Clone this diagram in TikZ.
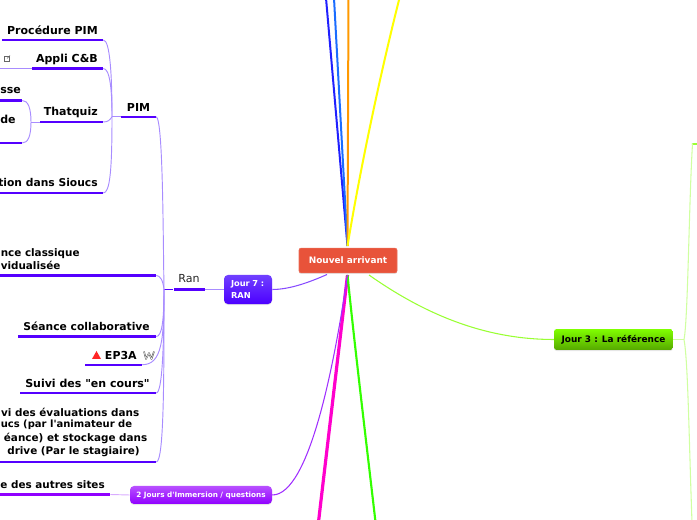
\documentclass[tikz,border=0pt]{standalone}
\usepackage{fontspec}
\setmainfont{DejaVu Sans}[Ligatures=TeXOff]
\usetikzlibrary{shadows}
\definecolor{rootred}{HTML}{E8533A}
\definecolor{ranviolet}{HTML}{5500FF}
\definecolor{rantop}{HTML}{7040FF}
\definecolor{ranbot}{HTML}{4C00FF}
\definecolor{twigviolet}{HTML}{A88CFF}
\definecolor{immpurple}{HTML}{A030FF}
\definecolor{immtop}{HTML}{B850FF}
\definecolor{immbot}{HTML}{9000FF}
\definecolor{limeline}{HTML}{99FF33}
\definecolor{limetwig}{HTML}{CFFFA0}
\definecolor{limetop}{HTML}{80FF00}
\definecolor{limebot}{HTML}{56A800}
\definecolor{branchpink}{HTML}{FF00CC}
\definecolor{branchgreen}{HTML}{33FF00}
\definecolor{branchblue}{HTML}{2020FF}
\definecolor{branchsky}{HTML}{1A6CFF}
\definecolor{branchorange}{HTML}{FF9900}
\definecolor{branchyellow}{HTML}{FFFF00}
\begin{document}
\begin{tikzpicture}[
        x=0.75pt, y=-0.75pt,
        rootbox/.style={rectangle, fill=rootred, draw=rootred!85!white,
          rounded corners=1.5pt, text=white, font=\fontsize{6.7}{8}\selectfont\bfseries,
          minimum width=73.5pt, minimum height=18.6pt, inner sep=0pt,
          drop shadow={shadow xshift=0pt, shadow yshift=-0.8pt, opacity=.2}},
        daybox/.style={rectangle, draw=none, rounded corners=3pt, text=white,
          font=\fontsize{6.2}{8.4}\selectfont\bfseries, inner sep=0pt,
          drop shadow={shadow xshift=0pt, shadow yshift=-0.8pt, opacity=.2}},
        daylime/.style={rectangle, top color=limetop, bottom color=limebot,
          draw=none, rounded corners=2pt, text=black, font=\fontsize{6.7}{8}\selectfont\bfseries,
          minimum width=89.2pt, minimum height=15.7pt, inner sep=0pt,
          drop shadow={shadow xshift=0pt, shadow yshift=-0.8pt, opacity=.2}},
        leaf/.style={font=\fontsize{8.25}{10.2}\selectfont\bfseries, inner sep=0pt, text=black},
        midleaf/.style={leaf, font=\fontsize{8.05}{10.2}\selectfont\bfseries},
        smallleaf/.style={leaf, font=\fontsize{7.8}{10.2}\selectfont\bfseries},
        tinyleaf/.style={leaf, font=\fontsize{7.5}{10.2}\selectfont\bfseries},
        plainleaf/.style={font=\fontsize{8.3}{10.2}\selectfont, inner sep=0pt, text=black!85},
        rule/.style={rectangle, fill=#1, inner sep=0pt, minimum height=1.6pt},
        rulewidth/.style={minimum width=#1*0.75pt},
        twig/.style={draw=twigviolet, line width=0.7pt},
        trunk/.style={line width=#1},
      ]
        \useasboundingbox (0,0) rectangle (697,520);
        % centre
        \node[rootbox] (root) at (348,260.5) {Nouvel arrivant};
        \coordinate (rootN) at (347.5,246);
        \coordinate (rootS) at (347.5,275);

        % branches leaving the page
        \coordinate (topa) at (326,-2);
        \coordinate (topb) at (334,-2);
        \coordinate (topc) at (348.5,-2);
        \coordinate (topd) at (399.5,-2);
        \coordinate (bota) at (318.5,522);
        \coordinate (botb) at (375.5,522);
        \draw[trunk=1.5pt, draw=branchblue] (topa) -- (rootN);
        \draw[trunk=1.5pt, draw=branchsky] (topb) -- (rootN);
        \draw[trunk=1.5pt, draw=branchorange] (topc) -- (rootN);
        \draw[trunk=1.5pt, draw=branchyellow] (topd) .. controls (380,75) and (360,170) .. (rootN);
        \draw[trunk=2.4pt, draw=branchpink] (rootS) .. controls (340,340) and (328,440) .. (bota);
        \draw[trunk=1.6pt, draw=branchgreen] (rootS) .. controls (354,340) and (366,440) .. (botb);

        % Jour 3
        \node[daylime] (jour3) at (613.5,339.5) {Jour 3 : La référence};
        \coordinate (rootE) at (369,275);
        \coordinate (hubr) at (684,339.5);
        \coordinate (botr) at (692,522);
        \node[rule=limeline, rulewidth=8] (refstub) at (696,144) {};
        \draw[line width=0.8pt, draw=limeline] (rootE) .. controls (430,318) and (490,339.5) .. (jour3.west);
        \draw[line width=0.8pt, draw=limetwig] (jour3.east) -- (hubr);
        \draw[line width=0.8pt, draw=limetwig] (hubr) .. controls (688,320) and (689,200) .. (692.5,144) -- (refstub.west);
        \draw[line width=0.8pt, draw=limetwig] (hubr) .. controls (688,360) and (689,440) .. (botr);

        % 2 Jours
        \node[daybox, top color=immtop, bottom color=immbot, minimum width=106.5pt, minimum height=13.5pt,
          font=\fontsize{5.45}{7}\selectfont\bfseries] (imm) at (201,495) {2 Jours d'Immersion / questions};
        \node[rule=immbot, rulewidth=120] (autres) at (50,494.5) {};
        \node[smallleaf, anchor=east] (autrest) at (105,485) {e des autres sites};
        \draw[line width=0.7pt, draw=immpurple!40!white] (autres.east) -- (imm.west);
        \draw[line width=0.8pt, draw=immpurple] (imm.east) .. controls (310,495) and (335,360) .. (rootS);

        % Jour 7
        \node[daybox, top color=rantop, bottom color=ranbot, minimum width=36pt, minimum height=21.8pt,
          text width=25.5pt, align=left] (jour7) at (248,289.5) {Jour 7 :\\RAN};
        \coordinate (rootW) at (327,274.5);
        \draw[line width=0.8pt, draw=ranviolet!70!white] (jour7.east) .. controls (290,289.5) and (310,282) .. (rootW);

        \node[rule=ranviolet, rulewidth=31] (ran) at (189,289.5) {};
        \node[plainleaf] (rant) at (189,279) {Ran};
        \coordinate (hubran) at (164,289.5);
        \draw[twig] (ran.east) -- (jour7.west);
        \draw[draw=ranviolet, line width=0.8pt] (ran.west) -- (hubran);

        % PIM
        \node[rule=ranviolet, rulewidth=35] (pim) at (138.5,116.7) {};
        \node[leaf] (pimt) at (138.5,107) {PIM};
        \coordinate (hubpim) at (112,116.7);
        \draw[twig] (hubran) .. controls (163,230) and (163,120) .. (pim.east);
        \draw[twig] (pim.west) -- (hubpim);

        \node[rule=ranviolet, rulewidth=101] (proc) at (52.5,40) {};
        \node[leaf, anchor=east] (proct) at (98,30) {Procédure PIM};
        \node[rule=ranviolet, rulewidth=71] (appli) at (67.5,68.5) {};
        \node[leaf, anchor=east] (applit) at (98,59) {Appli C\&B};
        \node[rule=ranviolet, rulewidth=63] (quiz) at (71.5,122) {};
        \node[leaf, anchor=east] (quizt) at (98,112) {Thatquiz};
        \node[rule=ranviolet, rulewidth=113] (sioucs) at (46.5,193) {};
        \node[midleaf, anchor=east] (sioucst) at (98,183) {tion dans Sioucs};
        \coordinate (appliend) at (-2,68.5);
        \draw[twig] (appli.west) -- (appliend);
        % little link icon
        \draw[draw=black!60, line width=0.35pt] (4.5,56) rectangle (9.5,61);
        \draw[draw=black!60, line width=0.35pt] (7,58.5) -- (10,55.5);

        \draw[twig] (hubpim) .. controls (112,75) and (110,40) .. (proc.east);
        \draw[twig] (hubpim) .. controls (112,90) and (110,68.5) .. (appli.east);
        \draw[twig] (hubpim) .. controls (110,120) and (108,122) .. (quiz.east);
        \draw[twig] (hubpim) .. controls (112,170) and (110,193) .. (sioucs.east);

        % Thatquiz
        \node[rule=ranviolet, rulewidth=32] (classe) at (6,100.5) {};
        \node[leaf, anchor=west] (classet) at (0,91) {sse};
        \node[leaf, anchor=west] (modet) at (0,119) {de};
        \node[rule=ranviolet, rulewidth=32] (mode) at (6,143) {};
        \coordinate (hubquiz) at (31,122);
        \draw[twig] (quiz.west) -- (hubquiz);
        \draw[twig] (hubquiz) .. controls (31,108) and (28,100.5) .. (classe.east);
        \draw[twig] (hubquiz) .. controls (31,136) and (28,143) .. (mode.east);

        % Ran, children
        \node[rule=ranviolet, rulewidth=176] (classique) at (68,275.5) {};
        \node[smallleaf, anchor=west, align=left] (classiquet) at (0.5,259) {nce classique\\vidualisée};
        \node[rule=ranviolet, rulewidth=138] (collab) at (87,336.5) {};
        \node[midleaf, anchor=east] (collabt) at (150,326) {Séance collaborative};
        \node[rule=ranviolet, rulewidth=57] (ep) at (113.5,364.7) {};
        \node[leaf, anchor=east] (ept) at (137,355) {EP3A};
        \node[rule=ranviolet, rulewidth=136] (suivi) at (88,393) {};
        \node[leaf, anchor=east] (suivit) at (150,383) {Suivi des "en cours"};
        \node[rule=ranviolet, rulewidth=176] (evals) at (68,462) {};
        \node[smallleaf, anchor=east] (evalsa) at (139.5,412) {vi des évaluations dans};
        \node[tinyleaf, anchor=west] (evalsb) at (0.5,425) {ucs (par l'animateur de};
        \node[smallleaf, anchor=east] (evalsc) at (147.5,438.5) {éance) et stockage dans};
        \node[smallleaf, anchor=east] (evalsd) at (140,452) {drive (Par le stagiaire)};
        % EP3A icons
        \fill[red!85!white] (92,359) -- (96.5,351) -- (101,359) -- cycle;
        \draw[draw=black!70, line width=1.1pt, line join=round] (144,351.5) -- (146,359) -- (149,353) -- (151.5,359) -- (154,351.5);
        \draw[draw=white, line width=0.35pt, line join=round] (144,351.5) -- (146,359) -- (149,353) -- (151.5,359) -- (154,351.5);

        \draw[twig] (hubran) .. controls (163,280) and (160,275.5) .. (classique.east);
        \draw[twig] (hubran) .. controls (164,320) and (162,336.5) .. (collab.east);
        \draw[twig] (hubran) .. controls (164,340) and (162,364.7) .. (ep.east);
        \draw[twig] (hubran) .. controls (164,350) and (162,393) .. (suivi.east);
        \draw[twig] (hubran) .. controls (164,380) and (164,462) .. (evals.east);
      \end{tikzpicture}
\end{document}
